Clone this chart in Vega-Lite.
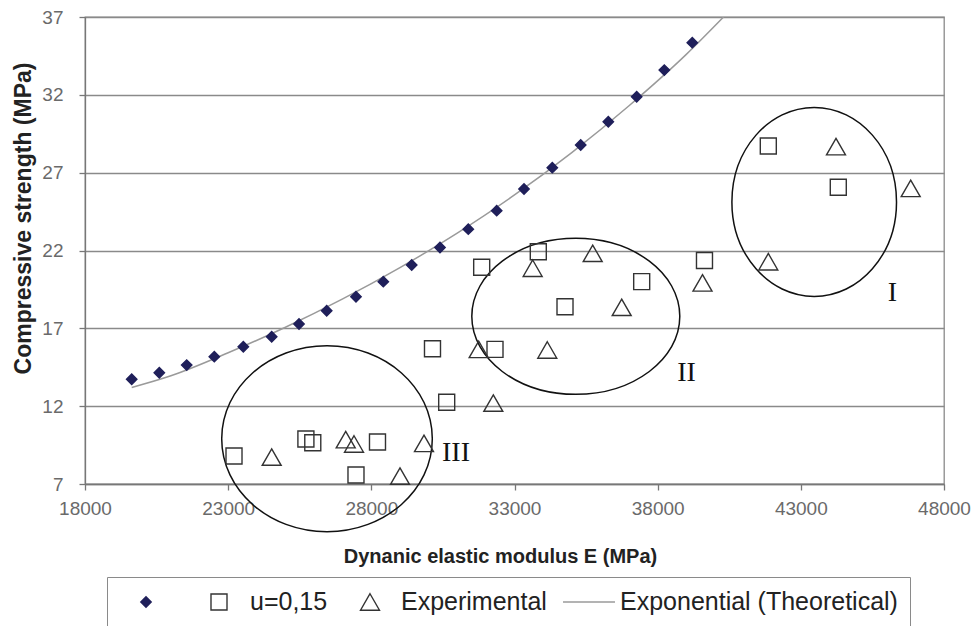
{
  "$schema": "https://vega.github.io/schema/vega-lite/v6.json",
  "width": 859,
  "height": 467,
  "autosize": {"type": "none"},
  "padding": {"left": 85, "top": 17, "right": 29, "bottom": 142},
  "background": "white",
  "config": {
    "font": "Liberation Sans",
    "view": {"stroke": "#8a8a8a", "strokeWidth": 1.3},
    "axis": {
      "labelFont": "Liberation Sans",
      "labelFontSize": 19,
      "labelColor": "#6a6a6a",
      "labelFlush": false,
      "labelOverlap": false,
      "tickSize": 6,
      "tickColor": "#777777",
      "tickWidth": 1.3,
      "domainColor": "#777777",
      "domainWidth": 1.3,
      "titleFont": "Liberation Sans",
      "titleFontWeight": "bold",
      "titleColor": "#222222"
    },
    "legend": {
      "title": null,
      "direction": "horizontal",
      "columnPadding": 15,
      "labelOffset": 4,
      "labelFont": "Liberation Sans",
      "labelFontSize": 25,
      "labelColor": "#222222",
      "labelLimit": 400,
      "padding": 12,
      "clipHeight": 26,
      "strokeColor": "#8a8a8a",
      "fillColor": "white",
      "symbolSize": 2700,
      "symbolOpacity": 1,
      "symbolStrokeWidth": 1.4
    }
  },
  "datasets": {
    "measured": [
      {"series": "Theoretical", "E": 19631, "S": 13.73},
      {"series": "Theoretical", "E": 20595, "S": 14.15},
      {"series": "Theoretical", "E": 21552, "S": 14.64},
      {"series": "Theoretical", "E": 22516, "S": 15.18},
      {"series": "Theoretical", "E": 23529, "S": 15.82},
      {"series": "Theoretical", "E": 24520, "S": 16.46},
      {"series": "Theoretical", "E": 25474, "S": 17.28},
      {"series": "Theoretical", "E": 26441, "S": 18.13},
      {"series": "Theoretical", "E": 27464, "S": 19.03},
      {"series": "Theoretical", "E": 28418, "S": 20.0},
      {"series": "Theoretical", "E": 29410, "S": 21.07},
      {"series": "Theoretical", "E": 30398, "S": 22.19},
      {"series": "Theoretical", "E": 31386, "S": 23.37},
      {"series": "Theoretical", "E": 32378, "S": 24.56},
      {"series": "Theoretical", "E": 33332, "S": 25.95},
      {"series": "Theoretical", "E": 34320, "S": 27.32},
      {"series": "Theoretical", "E": 35312, "S": 28.78},
      {"series": "Theoretical", "E": 36276, "S": 30.27},
      {"series": "Theoretical", "E": 37267, "S": 31.88},
      {"series": "Theoretical", "E": 38232, "S": 33.59},
      {"series": "Theoretical", "E": 39209, "S": 35.35},
      {"series": "u=0,15", "E": 23204, "S": 8.8},
      {"series": "u=0,15", "E": 25715, "S": 9.89},
      {"series": "u=0,15", "E": 25955, "S": 9.65},
      {"series": "u=0,15", "E": 28215, "S": 9.7},
      {"series": "u=0,15", "E": 27464, "S": 7.58},
      {"series": "u=0,15", "E": 30136, "S": 15.69},
      {"series": "u=0,15", "E": 30632, "S": 12.25},
      {"series": "u=0,15", "E": 32319, "S": 15.65},
      {"series": "u=0,15", "E": 31854, "S": 20.92},
      {"series": "u=0,15", "E": 33831, "S": 21.92},
      {"series": "u=0,15", "E": 34764, "S": 18.39},
      {"series": "u=0,15", "E": 37442, "S": 20.0},
      {"series": "u=0,15", "E": 39635, "S": 21.36},
      {"series": "u=0,15", "E": 41864, "S": 28.71},
      {"series": "u=0,15", "E": 44308, "S": 26.06},
      {"series": "Experimental", "E": 24520, "S": 8.73},
      {"series": "Experimental", "E": 27105, "S": 9.85},
      {"series": "Experimental", "E": 27395, "S": 9.57},
      {"series": "Experimental", "E": 29001, "S": 7.51},
      {"series": "Experimental", "E": 29839, "S": 9.61},
      {"series": "Experimental", "E": 31749, "S": 15.65},
      {"series": "Experimental", "E": 32260, "S": 12.2},
      {"series": "Experimental", "E": 34145, "S": 15.61},
      {"series": "Experimental", "E": 33635, "S": 20.86},
      {"series": "Experimental", "E": 35731, "S": 21.82},
      {"series": "Experimental", "E": 36744, "S": 18.35},
      {"series": "Experimental", "E": 39566, "S": 19.92},
      {"series": "Experimental", "E": 41864, "S": 21.28},
      {"series": "Experimental", "E": 44228, "S": 28.67},
      {"series": "Experimental", "E": 46837, "S": 25.99}
    ],
    "trend": [
      {"E": 19631, "S": 13.2},
      {"E": 21000, "S": 13.95},
      {"E": 23000, "S": 15.43},
      {"E": 25000, "S": 17.07},
      {"E": 27000, "S": 18.89},
      {"E": 29000, "S": 20.9},
      {"E": 31000, "S": 23.12},
      {"E": 33000, "S": 25.57},
      {"E": 35000, "S": 28.29},
      {"E": 37000, "S": 31.3},
      {"E": 39000, "S": 34.6},
      {"E": 40300, "S": 37.0}
    ],
    "ellipses": [
      {"region": "I", "E": 43467, "S": 25.12},
      {"region": "II", "E": 35141, "S": 17.77},
      {"region": "III", "E": 26452, "S": 9.91}
    ],
    "notes": [
      {"region": "I", "E": 46201, "S": 19.29},
      {"region": "II", "E": 39007, "S": 14.15},
      {"region": "III", "E": 30957, "S": 8.99}
    ]
  },
  "encoding": {
    "x": {
      "field": "E",
      "type": "quantitative",
      "scale": {"domain": [18000, 48000], "nice": false, "zero": false},
      "axis": {
        "values": [18000, 23000, 28000, 33000, 38000, 43000, 48000],
        "format": "d",
        "grid": false,
        "labelPadding": 9,
        "title": "Dynanic elastic modulus  E (MPa)",
        "titleFontSize": 20,
        "titleX": 415,
        "titleY": 72,
        "titleAlign": "center",
        "titleBaseline": "middle"
      }
    },
    "y": {
      "field": "S",
      "type": "quantitative",
      "scale": {"domain": [7, 37], "nice": false, "zero": false},
      "axis": {
        "values": [7, 12, 17, 22, 27, 32, 37],
        "grid": true,
        "gridColor": "#8a8a8a",
        "gridWidth": 1.3,
        "labelPadding": 16,
        "title": "Compressive strength (MPa)",
        "titleFontSize": 23,
        "titleAngle": 270,
        "titleX": -62,
        "titleY": 201,
        "titleAlign": "center",
        "titleBaseline": "middle"
      }
    }
  },
  "layer": [
    {
      "data": {"name": "trend"},
      "mark": {"type": "line", "color": "#9a9a9a", "strokeWidth": 1.5, "interpolate": "monotone", "clip": true}
    },
    {
      "data": {"name": "ellipses"},
      "transform": [{"filter": "datum.region == 'I'"}],
      "mark": {
        "type": "point",
        "shape": "M 0.871 0 C 0.871 0.552 0.481 1 0 1 C -0.481 1 -0.871 0.552 -0.871 0 C -0.871 -0.552 -0.481 -1 0 -1 C 0.481 -1 0.871 -0.552 0.871 0 Z",
        "size": 35721,
        "filled": false,
        "stroke": "#111111",
        "strokeWidth": 1.5,
        "opacity": 1
      }
    },
    {
      "data": {"name": "ellipses"},
      "transform": [{"filter": "datum.region == 'II'"}],
      "mark": {
        "type": "point",
        "shape": "M 1 0 C 1 0.414 0.552 0.75 0 0.75 C -0.552 0.75 -1 0.414 -1 0 C -1 -0.414 -0.552 -0.75 0 -0.75 C 0.552 -0.75 1 -0.414 1 0 Z",
        "size": 43264,
        "filled": false,
        "stroke": "#111111",
        "strokeWidth": 1.5,
        "opacity": 1
      }
    },
    {
      "data": {"name": "ellipses"},
      "transform": [{"filter": "datum.region == 'III'"}],
      "mark": {
        "type": "point",
        "shape": "M 1 0 C 1 0.488 0.552 0.883 0 0.883 C -0.552 0.883 -1 0.488 -1 0 C -1 -0.488 -0.552 -0.883 0 -0.883 C 0.552 -0.883 1 -0.488 1 0 Z",
        "size": 44352,
        "filled": false,
        "stroke": "#111111",
        "strokeWidth": 1.5,
        "opacity": 1
      }
    },
    {
      "data": {"name": "measured"},
      "mark": {"type": "point", "size": 2700, "strokeWidth": 1.4, "opacity": 1},
      "encoding": {
        "shape": {
          "field": "series",
          "type": "nominal",
          "scale": {
            "domain": ["Theoretical", "u=0,15", "Experimental", "Exponential (Theoretical)"],
            "range": [
              "M 0 -0.2 L 0.2 0 L 0 0.2 L -0.2 0 Z",
              "M -0.308 -0.308 L 0.308 -0.308 L 0.308 0.308 L -0.308 0.308 Z",
              "M 0 -0.317 L 0.365 0.317 L -0.365 0.317 Z",
              "M -1 0 L 1 0"
            ]
          },
          "legend": {
            "orient": "none",
            "legendX": 22,
            "legendY": 560,
            "columns": 4,
            "labelExpr": "datum.label == 'Theoretical' ? '' : datum.label"
          }
        },
        "fill": {
          "field": "series",
          "type": "nominal",
          "scale": {
            "domain": ["Theoretical", "u=0,15", "Experimental", "Exponential (Theoretical)"],
            "range": ["#1f1f5a", "transparent", "transparent", "transparent"]
          },
          "legend": {
            "orient": "none",
            "legendX": 22,
            "legendY": 560,
            "columns": 4,
            "labelExpr": "datum.label == 'Theoretical' ? '' : datum.label"
          }
        },
        "stroke": {
          "field": "series",
          "type": "nominal",
          "scale": {
            "domain": ["Theoretical", "u=0,15", "Experimental", "Exponential (Theoretical)"],
            "range": ["#1f1f5a", "#333333", "#333333", "#9a9a9a"]
          },
          "legend": {
            "orient": "none",
            "legendX": 22,
            "legendY": 560,
            "columns": 4,
            "labelExpr": "datum.label == 'Theoretical' ? '' : datum.label"
          }
        }
      }
    },
    {
      "data": {"name": "notes"},
      "mark": {"type": "text", "font": "Liberation Serif", "fontSize": 28, "color": "#111111", "align": "center", "baseline": "middle"},
      "encoding": {"text": {"field": "region", "type": "nominal"}}
    }
  ]
}
